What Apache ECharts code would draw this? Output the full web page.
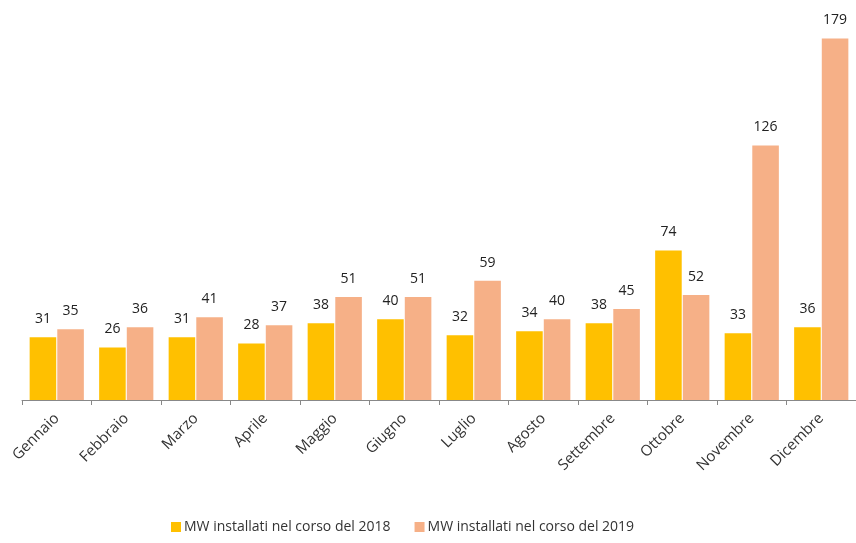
<!DOCTYPE html>
<html><head><meta charset="utf-8">
<script src="https://cdn.jsdelivr.net/npm/echarts@6/dist/echarts.min.js"></script>
<style>html,body{margin:0;padding:0;background:#fff}#c{width:856px;height:543px}</style>
</head><body><div id="c"></div>
<script>
const months = ['Gennaio','Febbraio','Marzo','Aprile','Maggio','Giugno','Luglio','Agosto','Settembre','Ottobre','Novembre','Dicembre'];
const mw2018 = [31,26,31,28,38,40,32,34,38,74,33,36];
const mw2019 = [35,36,41,37,51,51,59,40,45,52,126,179];
const seriesNames = ['MW installati nel corso del 2018','MW installati nel corso del 2019'];

const font = "'Open Sans', 'Liberation Sans', sans-serif";
const chart = echarts.init(document.getElementById('c'), null, {renderer:'canvas'});
const lbl = {show:true, position:'top', distance:11, color:'#222', fontSize:14, fontFamily:font};
chart.setOption({
  animation:false,
  grid:{left:22, right:0, top:0, bottom:143, containLabel:false},
  legend:{bottom:4, left:166, itemWidth:10, itemHeight:10, itemGap:24, icon:'rect',
    textStyle:{fontSize:14, color:'#333', fontFamily:font, padding:[0,0,0,-2]},
    data:seriesNames},
  xAxis:{type:'category', data:months,
    axisLine:{lineStyle:{color:'#888'}},
    axisTick:{show:true, length:5, lineStyle:{color:'#888'}},
    axisLabel:{rotate:45, margin:16, fontSize:15, color:'#333', fontFamily:font, interval:0}},
  yAxis:{type:'value', min:0, max:198, show:false, splitLine:{show:false}},
  series:[
    {name:seriesNames[0], type:'bar', data:mw2018, itemStyle:{color:'#FFC000'}, barGap:'4%', barCategoryGap:'22%', label:lbl},
    {name:seriesNames[1], type:'bar', data:mw2019, itemStyle:{color:'#F6B087'}, barGap:'4%', barCategoryGap:'22%', label:lbl}
  ]
});
</script></body></html>
